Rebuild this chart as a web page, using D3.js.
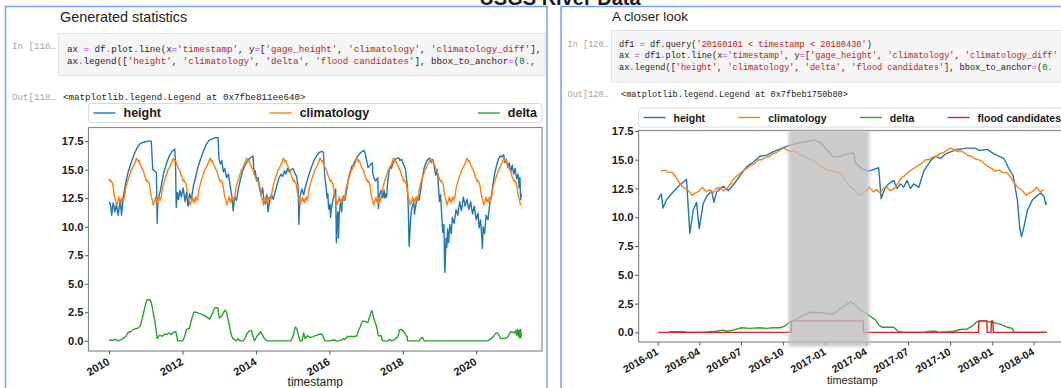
<!DOCTYPE html>
<html>
<head>
<meta charset="utf-8">
<script src="https://cdnjs.cloudflare.com/ajax/libs/d3/7.8.5/d3.min.js"></script>
<style>
  body { margin: 0; background: #fff; }
  svg { display: block; }
</style>
</head>
<body>
<script>
// ---- data (timestamps as decimal years) ----
const heightSeries = [
[2010.00,12.2],[2010.04,11.9],[2010.07,11.0],[2010.11,12.1],[2010.16,11.3],[2010.20,12.0],[2010.25,11.0],[2010.30,12.3],[2010.34,11.0],[2010.38,12.5],
[2010.45,13.8],[2010.52,14.8],[2010.60,15.6],[2010.68,16.3],[2010.76,16.9],[2010.85,17.3],[2010.95,17.4],[2011.05,17.5],[2011.15,17.5],[2011.17,16.2],
[2011.19,15.0],[2011.24,14.9],[2011.29,14.7],[2011.31,10.3],[2011.33,12.3],[2011.40,13.2],[2011.48,14.6],[2011.56,15.5],[2011.64,16.2],[2011.72,16.6],
[2011.79,16.8],[2011.81,15.6],[2011.83,11.7],[2011.86,13.0],[2011.89,12.4],[2011.93,13.2],[2011.97,12.6],[2012.02,13.4],[2012.07,12.2],[2012.11,13.0],
[2012.15,11.8],[2012.19,12.9],[2012.24,12.4],[2012.30,13.6],[2012.36,14.4],[2012.42,15.2],[2012.50,16.0],[2012.58,16.7],[2012.66,17.3],[2012.74,17.6],
[2012.82,17.7],[2012.90,17.8],[2012.97,17.8],[2012.99,16.0],[2013.03,15.5],[2013.07,15.8],[2013.11,14.8],[2013.15,15.1],[2013.20,14.3],[2013.25,14.6],
[2013.30,13.5],[2013.35,12.5],[2013.38,11.4],[2013.42,12.6],[2013.47,12.3],[2013.52,13.3],[2013.58,14.2],[2013.65,15.0],[2013.72,15.5],[2013.80,15.9],
[2013.88,16.1],[2013.92,16.2],[2013.95,14.6],[2013.98,14.9],[2014.02,14.0],[2014.06,14.3],[2014.10,13.3],[2014.14,12.8],[2014.18,13.4],[2014.22,12.3],
[2014.26,12.0],[2014.30,12.8],[2014.33,11.3],[2014.37,12.2],[2014.42,12.8],[2014.47,12.4],[2014.52,13.0],[2014.57,13.6],[2014.62,14.2],[2014.68,14.6],
[2014.73,14.4],[2014.78,14.9],[2014.82,14.6],[2014.86,15.1],[2014.91,14.8],[2014.96,15.0],[2015.01,15.1],[2015.06,14.7],[2015.11,14.4],[2015.15,13.5],
[2015.17,10.2],[2015.20,12.6],[2015.25,13.3],[2015.30,12.8],[2015.35,13.5],[2015.42,14.3],[2015.50,15.1],[2015.58,15.8],[2015.65,16.2],[2015.72,16.5],
[2015.80,16.6],[2015.84,16.5],[2015.86,15.4],[2015.88,14.2],[2015.91,13.6],[2015.94,12.5],[2015.96,12.9],[2015.98,11.6],
[2016.002,11.5],[2016.012,11.8],[2016.022,12.0],[2016.032,10.8],[2016.052,11.5],[2016.092,12.2],[2016.132,12.8],[2016.172,13.3],[2016.192,8.6],[2016.212,10.6],
[2016.232,11.3],[2016.248,9.0],[2016.272,11.2],[2016.292,11.8],[2016.322,12.3],[2016.336,11.3],[2016.352,12.2],[2016.391,12.7],[2016.421,12.3],[2016.451,12.8],
[2016.491,13.6],[2016.532,14.4],[2016.571,14.8],[2016.611,15.3],[2016.651,15.4],[2016.691,15.7],[2016.777,16.2],[2016.851,16.5],[2016.901,16.6],[2016.931,16.7],
[2016.971,16.5],[2017.001,16.0],[2017.021,15.7],[2017.051,15.2],[2017.091,15.3],[2017.131,15.5],[2017.171,15.6],[2017.181,14.7],[2017.221,14.2],[2017.261,14.0],
[2017.301,14.2],[2017.320,14.3],[2017.335,11.6],[2017.36,12.6],[2017.38,12.9],[2017.41,13.2],[2017.43,12.5],[2017.45,12.9],[2017.47,12.6],[2017.49,13.2],
[2017.51,12.5],[2017.53,12.9],[2017.56,12.6],[2017.59,14.0],[2017.63,14.9],[2017.66,15.3],[2017.69,15.1],[2017.72,15.5],[2017.79,15.9],[2017.85,16.0],
[2017.90,16.0],[2017.92,15.8],[2017.97,15.9],[2018.01,15.5],[2018.07,15.1],[2018.10,14.2],[2018.125,13.6],[2018.133,12.9],[2018.15,11.5],[2018.165,9.0],
[2018.175,8.3],[2018.19,9.2],[2018.21,10.6],[2018.24,11.5],[2018.27,11.9],[2018.29,12.1],[2018.31,11.8],[2018.32,11.1],[2018.325,11.3],
[2018.36,12.0],[2018.40,12.6],[2018.44,12.3],[2018.48,13.0],[2018.53,14.2],[2018.58,15.1],[2018.63,15.6],[2018.68,15.9],[2018.73,16.0],[2018.78,15.6],
[2018.82,15.9],[2018.86,15.2],[2018.90,14.5],[2018.94,15.0],[2018.97,13.6],[2019.00,12.2],[2019.03,12.8],[2019.06,11.0],[2019.09,9.5],[2019.12,10.2],
[2019.14,6.5],[2019.15,6.0],[2019.16,7.3],[2019.18,9.0],[2019.20,8.2],[2019.22,9.8],[2019.25,8.6],[2019.28,10.2],[2019.32,9.4],[2019.35,10.8],
[2019.40,10.3],[2019.45,11.5],[2019.50,11.0],[2019.55,12.2],[2019.60,11.4],[2019.65,12.6],[2019.70,11.8],[2019.75,12.4],[2019.80,11.5],[2019.85,12.2],
[2019.90,11.1],[2019.95,11.8],[2020.00,10.6],[2020.05,11.2],[2020.08,9.9],[2020.12,10.6],[2020.15,9.2],[2020.17,8.1],[2020.19,10.0],[2020.23,9.4],
[2020.27,11.0],[2020.32,10.6],[2020.37,12.0],[2020.42,12.8],[2020.46,13.8],[2020.50,14.6],[2020.55,15.3],[2020.60,15.9],[2020.65,16.2],[2020.70,16.1],
[2020.75,16.3],[2020.78,15.6],[2020.82,15.9],[2020.86,15.2],[2020.90,15.6],[2020.94,14.8],[2020.98,15.4],[2021.02,14.6],[2021.06,15.1],[2021.10,14.2],
[2021.14,14.6],[2021.17,13.4],[2021.19,14.3],[2021.21,12.4],[2021.23,12.9]
];

// climatology: one row per year, values on days 1, 8, 16 and 23 of each month
const climatologyYears = [2010, 2011, 2012, 2013, 2014, 2015, 2016, 2017, 2018, 2019, 2020, 2021];
const climatologyDays = [1, 8, 16, 23];
const climatologyRows = [
[14.2,14.0,14.1,13.9, 13.9,13.6,13.1,12.7, 12.5,12.3,11.9,12.1, 12.3,12.6,12.2,12.4, 12.1,12.5,12.6,12.3, 12.5,12.9,13.4,13.6, 13.9,14.1,14.3,14.5, 14.7,15.0,15.0,15.2, 15.3,15.5,15.6,15.8, 16.0,15.9,15.7,15.8, 15.6,15.4,15.3,15.1, 15.0,14.9,14.6,14.4],
[14.2,14.0,14.1,13.9, 13.9,13.6,13.1,12.7, 12.5,12.3,11.9,12.1, 12.3,12.6,12.2,12.4, 12.1,12.5,12.6,12.3, 12.5,12.9,13.4,13.6, 13.9,14.1,14.3,14.5, 14.7,15.0,15.0,15.2, 15.3,15.5,15.6,15.8, 16.0,15.9,15.7,15.8, 15.6,15.4,15.3,15.1, 15.0,14.9,14.6,14.4],
[14.2,14.0,14.1,13.9, 13.9,13.6,13.1,12.7, 12.5,12.3,11.9,12.1, 12.3,12.6,12.2,12.4, 12.1,12.5,12.6,12.3, 12.5,12.9,13.4,13.6, 13.9,14.1,14.3,14.5, 14.7,15.0,15.0,15.2, 15.3,15.5,15.6,15.8, 16.0,15.9,15.7,15.8, 15.6,15.4,15.3,15.1, 15.0,14.9,14.6,14.4],
[14.2,14.0,14.1,13.9, 13.9,13.6,13.1,12.7, 12.5,12.3,11.9,12.1, 12.3,12.6,12.2,12.4, 12.1,12.5,12.6,12.3, 12.5,12.9,13.4,13.6, 13.9,14.1,14.3,14.5, 14.7,15.0,15.0,15.2, 15.3,15.5,15.6,15.8, 16.0,15.9,15.7,15.8, 15.6,15.4,15.3,15.1, 15.0,14.9,14.6,14.4],
[14.2,14.0,14.1,13.9, 13.9,13.6,13.1,12.7, 12.5,12.3,11.9,12.1, 12.3,12.6,12.2,12.4, 12.1,12.5,12.6,12.3, 12.5,12.9,13.4,13.6, 13.9,14.1,14.3,14.5, 14.7,15.0,15.0,15.2, 15.3,15.5,15.6,15.8, 16.0,15.9,15.7,15.8, 15.6,15.4,15.3,15.1, 15.0,14.9,14.6,14.4],
[14.2,14.0,14.1,13.9, 13.9,13.6,13.1,12.7, 12.5,12.3,11.9,12.1, 12.3,12.6,12.2,12.4, 12.1,12.5,12.6,12.3, 12.5,12.9,13.4,13.6, 13.9,14.1,14.3,14.5, 14.7,15.0,15.0,15.2, 15.3,15.5,15.6,15.8, 16.0,15.9,15.7,15.8, 15.6,15.4,15.3,15.1, 15.0,14.9,14.6,14.4],
[14.2,14.0,14.1,13.9, 13.9,13.6,13.1,12.7, 12.5,12.3,11.9,12.1, 12.3,12.6,12.2,12.4, 12.1,12.5,12.6,12.3, 12.5,12.9,13.4,13.6, 13.9,14.1,14.3,14.5, 14.7,15.0,15.0,15.2, 15.3,15.5,15.6,15.8, 16.0,15.9,15.7,15.8, 15.6,15.4,15.3,15.1, 15.0,14.9,14.6,14.4],
[14.2,14.0,14.1,13.9, 13.9,13.6,13.1,12.7, 12.5,12.3,11.9,12.1, 12.3,12.6,12.2,12.4, 12.1,12.5,12.6,12.3, 12.5,12.9,13.4,13.6, 13.9,14.1,14.3,14.5, 14.7,15.0,15.0,15.2, 15.3,15.5,15.6,15.8, 16.0,15.9,15.7,15.8, 15.6,15.4,15.3,15.1, 15.0,14.9,14.6,14.4],
[14.2,14.0,14.1,13.9, 13.9,13.6,13.1,12.7, 12.5,12.3,11.9,12.1, 12.3,12.6,12.2,12.4, 12.1,12.5,12.6,12.3, 12.5,12.9,13.4,13.6, 13.9,14.1,14.3,14.5, 14.7,15.0,15.0,15.2, 15.3,15.5,15.6,15.8, 16.0,15.9,15.7,15.8, 15.6,15.4,15.3,15.1, 15.0,14.9,14.6,14.4],
[14.2,14.0,14.1,13.9, 13.9,13.6,13.1,12.7, 12.5,12.3,11.9,12.1, 12.3,12.6,12.2,12.4, 12.1,12.5,12.6,12.3, 12.5,12.9,13.4,13.6, 13.9,14.1,14.3,14.5, 14.7,15.0,15.0,15.2, 15.3,15.5,15.6,15.8, 16.0,15.9,15.7,15.8, 15.6,15.4,15.3,15.1, 15.0,14.9,14.6,14.4],
[14.2,14.0,14.1,13.9, 13.9,13.6,13.1,12.7, 12.5,12.3,11.9,12.1, 12.3,12.6,12.2,12.4, 12.1,12.5,12.6,12.3, 12.5,12.9,13.4,13.6, 13.9,14.1,14.3,14.5, 14.7,15.0,15.0,15.2, 15.3,15.5,15.6,15.8, 16.0,15.9,15.7,15.8, 15.6,15.4,15.3,15.1, 15.0,14.9,14.6,14.4],
[14.2,14.0,14.1,13.9, 13.9,13.6,13.1,12.7, 12.5,12.3,11.9]
];

const deltaSeries = [
[2010.00,0.05],[2010.10,0.05],[2010.17,0.15],[2010.22,0.0],[2010.30,0.05],[2010.38,0.2],[2010.46,0.4],[2010.52,0.75],[2010.58,0.8],[2010.65,0.95],
[2010.70,1.05],[2010.78,1.1],[2010.85,1.3],[2010.90,1.9],[2010.95,2.6],[2011.00,3.3],[2011.04,3.6],[2011.12,3.6],[2011.16,3.2],[2011.19,2.7],
[2011.24,1.8],[2011.28,1.0],[2011.31,0.2],[2011.38,0.5],[2011.45,0.4],[2011.52,0.6],[2011.58,0.55],[2011.63,0.7],[2011.70,0.55],[2011.76,0.75],
[2011.82,0.8],[2011.87,0.0],[2012.01,0.0],[2012.06,0.4],[2012.11,1.0],[2012.19,1.1],[2012.25,1.9],[2012.31,2.5],[2012.38,2.5],[2012.45,2.4],
[2012.55,2.3],[2012.65,2.1],[2012.74,1.9],[2012.80,2.3],[2012.86,2.8],[2012.89,2.9],[2012.96,2.9],[2013.00,2.0],[2013.05,2.1],[2013.12,2.5],
[2013.16,2.7],[2013.20,2.5],[2013.27,1.4],[2013.33,0.5],[2013.37,0.2],[2013.42,0.1],[2013.47,0.0],[2013.52,0.2],[2013.56,0.0],[2013.66,0.0],
[2013.70,0.2],[2013.75,0.6],[2013.81,0.85],[2013.88,0.9],[2013.92,0.4],[2013.96,0.0],[2014.03,0.4],[2014.08,0.6],[2014.13,0.8],[2014.18,0.5],
[2014.23,0.2],[2014.30,0.0],[2014.95,0.0],[2015.00,0.3],[2015.04,0.8],[2015.07,1.2],[2015.11,1.1],[2015.15,0.6],[2015.20,0.0],[2015.26,0.0],
[2015.30,0.7],[2015.34,0.2],[2015.40,0.45],[2015.47,0.3],[2015.55,0.35],[2015.62,0.45],[2015.70,0.55],[2015.80,0.6],[2015.84,0.3],[2015.88,0.0],
[2016.00,0.0],[2016.07,0.05],[2016.15,0.07],[2016.18,0.0],[2016.26,0.0],[2016.35,0.1],[2016.39,0.2],[2016.41,0.1],[2016.45,0.2],[2016.50,0.4],
[2016.55,0.35],[2016.61,0.4],[2016.65,0.35],[2016.69,0.4],[2016.73,0.4],[2016.76,0.55],[2016.79,0.9],[2016.83,1.15],[2016.87,1.5],[2016.92,1.75],
[2016.97,1.7],[2017.01,1.65],[2017.05,1.6],[2017.08,1.95],[2017.12,2.35],[2017.15,2.65],[2017.17,2.5],[2017.21,1.95],[2017.26,1.5],[2017.30,1.1],
[2017.32,0.65],[2017.34,0.45],[2017.41,0.45],[2017.44,0.05],[2017.47,0.0],[2017.59,0.0],[2017.63,0.1],[2017.66,0.1],[2017.68,0.0],[2017.71,0.03],
[2017.77,0.1],[2017.81,0.25],[2017.85,0.3],[2017.88,0.55],[2017.91,0.95],[2017.95,1.0],[2017.97,0.95],[2018.01,0.85],[2018.05,0.7],[2018.09,0.45],
[2018.12,0.35],[2018.13,0.0],[2018.325,0.0],[2018.45,0.0],[2018.50,0.25],[2018.54,0.3],[2018.58,0.0],[2020.31,0.0],[2020.45,0.3],[2020.53,0.65],
[2020.57,0.7],[2020.61,0.55],[2020.66,0.2],[2020.70,0.2],[2020.78,0.2],[2020.85,0.3],[2020.90,0.6],[2020.94,0.8],[2020.99,0.75],[2021.04,0.7],
[2021.07,0.9],[2021.10,0.5],[2021.12,1.0],[2021.15,0.4],[2021.17,0.95],[2021.19,0.2],[2021.21,1.0],[2021.23,0.3]
];

// flood candidate flag (0 / 1)
const floodSeries = [
[2016.002,0],[2016.797,0],[2016.800,1],[2017.227,1],[2017.230,0],[2017.917,0],[2017.920,1],[2017.967,1],[2017.970,0],
[2017.992,0],[2017.995,1],[2018.003,1],[2018.006,0],[2018.325,0]
];

// highlighted period on the close-up
const highlightSpan = [2016.78, 2017.265];
const queryRange = ["2016-01-01", "2018-04-30"];

const yTickValues = [0, 2.5, 5, 7.5, 10, 12.5, 15, 17.5];
const leftTickLabels = ["2010", "2012", "2014", "2016", "2018", "2020"];
const rightTickLabels = ["2016-01", "2016-04", "2016-07", "2016-10", "2017-01", "2017-04", "2017-07", "2017-10", "2018-01", "2018-04"];

const seriesNames = ["height", "climatology", "delta", "flood candidates"];
const seriesColors = ["#1f77b4", "#ff7f0e", "#2ca02c", "#d62728"];

const leftCode = [
  "ax = df.plot.line(x='timestamp', y=['gage_height', 'climatology', 'climatology_diff'],",
  "ax.legend(['height', 'climatology', 'delta', 'flood candidates'], bbox_to_anchor=(0.,"
];
const rightCode = [
  "df1 = df.query('20160101 < timestamp < 20180430')",
  "ax = df1.plot.line(x='timestamp', y=['gage_height', 'climatology', 'climatology_diff'",
  "ax.legend(['height', 'climatology', 'delta', 'flood candidates'], bbox_to_anchor=(0."
];

// ---- helpers ----
const SANS = "'Liberation Sans', Arial, Helvetica, sans-serif";
const MONO = "'Liberation Mono', 'DejaVu Sans Mono', monospace";

function yearToDate(y) {
  const yr = Math.floor(y);
  const a = Date.UTC(yr, 0, 1), b = Date.UTC(yr + 1, 0, 1);
  return new Date(a + (y - yr) * (b - a));
}
function dateToYear(d) {
  const yr = d.getUTCFullYear();
  const a = Date.UTC(yr, 0, 1), b = Date.UTC(yr + 1, 0, 1);
  return yr + (d - a) / (b - a);
}
function padded(lo, hi) { const m = (hi - lo) * 0.05; return [lo - m, hi + m]; }

const climatologySeries = [];
climatologyYears.forEach((yr, i) => {
  climatologyRows[i].forEach((v, k) => {
    const d = new Date(Date.UTC(yr, Math.floor(k / 4), climatologyDays[k % 4]));
    climatologySeries.push([dateToYear(d), v]);
  });
});

const svg = d3.select("body").append("svg").attr("width", 1061).attr("height", 388);
const defs = svg.append("defs");
defs.append("filter").attr("id", "soft").attr("x", "-10%").attr("y", "-10%").attr("width", "120%").attr("height", "120%")
  .append("feGaussianBlur").attr("stdDeviation", 1.6);

// ---- page title and notebook panels ----
svg.append("text").attr("x", 560).attr("y", 4.5).attr("text-anchor", "middle")
  .attr("font-family", SANS).attr("font-weight", "bold").attr("font-size", 20).attr("fill", "#1a1a1a")
  .text("USGS River Data");

function panel(x, w, heading, headY, box, code, codeSize, codeX, codeY0, codeStep, promptN, outY, outX, outText) {
  const g = svg.append("g");
  g.append("rect").attr("x", x).attr("y", 6.5).attr("width", w).attr("height", 420)
    .attr("fill", "none").attr("stroke", "#72a4f2").attr("stroke-width", 1.5);
  g.append("text").attr("x", heading.x).attr("y", headY).attr("font-family", SANS)
    .attr("font-size", heading.size).attr("fill", "#1e1e1e").text(heading.text);
  const clipId = "clip" + Math.round(x);
  defs.append("clipPath").attr("id", clipId).append("rect")
    .attr("x", box[0]).attr("y", box[1]).attr("width", box[2]).attr("height", box[3]);
  g.append("rect").attr("x", box[0]).attr("y", box[1]).attr("width", box[2]).attr("height", box[3])
    .attr("fill", "#f5f5f5").attr("stroke", "#e2e2e2");
  const cg = g.append("g").attr("clip-path", `url(#${clipId})`);
  code.forEach((line, i) => codeText(cg, codeX, codeY0 + i * codeStep, line, codeSize));
  g.append("text").attr("x", x + 6.5).attr("y", codeY0 - (code.length === 2 ? 3 : 0))
    .attr("font-family", MONO).attr("font-size", codeSize).attr("fill", "#a3a3a3")
    .style("white-space", "pre").text(`In [${promptN}\u2026`);
  g.append("text").attr("x", x + 6.5).attr("y", outY)
    .attr("font-family", MONO).attr("font-size", codeSize).attr("fill", "#a3a3a3")
    .style("white-space", "pre").text(`Out[${promptN}\u2026`);
  g.append("text").attr("x", outX).attr("y", outY)
    .attr("font-family", MONO).attr("font-size", codeSize).attr("fill", "#222")
    .style("white-space", "pre").text(outText);
}

function codeText(g, x, y, line, size) {
  const t = g.append("text").attr("x", x).attr("y", y)
    .attr("font-family", MONO).attr("font-size", size).style("white-space", "pre");
  const tokens = line.match(/'[^']*'?|[A-Za-z_]\w*|\d+\.?\d*|[=.<]|\s+|./g);
  tokens.forEach(tok => {
    let fill = "#222";
    if (tok[0] === "'") fill = "#ba2121";
    else if (/^\d/.test(tok)) fill = "#008000";
    else if (/^[=.<]$/.test(tok)) fill = "#aa22ff";
    t.append("tspan").attr("fill", fill).text(tok);
  });
}

panel(5.5, 541.5, {x: 60, size: 14.4, text: "Generated statistics"}, 21.5,
  [58.5, 33.5, 486.5, 42], leftCode, 9.2, 67, 51.5, 12, 118, 100, 63, "<matplotlib.legend.Legend at 0x7fbe811ee640>");
panel(561, 600, {x: 612, size: 13.4, text: "A closer look"}, 20.5,
  [611.5, 30.5, 500, 51.5], rightCode, 8.6, 619, 46.5, 11.7, 120, 96.5, 621, "<matplotlib.legend.Legend at 0x7fbeb1750b80>");

// ---- charts ----
function drawChart(cfg) {
  const g = svg.append("g");
  const allX = cfg.series.flatMap(s => s.data.map(d => d[0]));
  const allY = cfg.series.flatMap(s => s.data.map(d => d[1]));
  const [xa, xb] = padded(d3.min(allX), d3.max(allX));
  const [ya, yb] = padded(d3.min(allY), d3.max(allY));
  const x = d3.scaleUtc().domain([yearToDate(xa), yearToDate(xb)]).range([cfg.left, cfg.right]);
  const y = d3.scaleLinear().domain([ya, yb]).range([cfg.bottom, cfg.top]);

  const clipId = "axclip" + Math.round(cfg.left);
  defs.append("clipPath").attr("id", clipId).append("rect")
    .attr("x", cfg.left).attr("y", cfg.top).attr("width", cfg.right - cfg.left).attr("height", cfg.bottom - cfg.top);

  const line = d3.line().x(d => x(yearToDate(d[0]))).y(d => y(d[1]));
  const lg = g.append("g").attr("clip-path", `url(#${clipId})`);
  cfg.series.forEach(s => {
    lg.append("path").datum(s.data).attr("d", line).attr("fill", "none")
      .attr("stroke", s.color).attr("stroke-width", 1.4).attr("stroke-linejoin", "round");
  });

  // spines
  g.append("rect").attr("x", cfg.left).attr("y", cfg.top)
    .attr("width", cfg.right - cfg.left).attr("height", cfg.bottom - cfg.top)
    .attr("fill", "none").attr("stroke", "#8a8a8a").attr("stroke-width", 1.2);

  // y axis
  const yAxis = g.append("g").attr("transform", `translate(${cfg.left},0)`)
    .call(d3.axisLeft(y).tickValues(yTickValues).tickFormat(d3.format(".1f")).tickSize(3.5).tickPadding(1.5));
  yAxis.select(".domain").remove();
  yAxis.selectAll(".tick line").attr("stroke", "#555");
  yAxis.selectAll(".tick text").attr("font-family", SANS).attr("font-weight", "bold")
    .attr("font-size", 11.2).attr("fill", "#1a1a1a");

  // x axis
  const tickDates = cfg.tickLabels.map(cfg.parseTick);
  const xAxis = g.append("g").attr("transform", `translate(0,${cfg.bottom})`)
    .call(d3.axisBottom(x).tickValues(tickDates).tickFormat((d, i) => cfg.tickLabels[i]).tickSize(3.5));
  xAxis.select(".domain").remove();
  xAxis.selectAll(".tick line").attr("stroke", "#555");
  xAxis.selectAll(".tick text")
    .attr("font-family", SANS).attr("font-weight", "bold").attr("font-size", cfg.xTickSize).attr("fill", "#1a1a1a")
    .attr("text-anchor", "end").attr("dy", null).attr("x", 0).attr("y", 0)
    .attr("dominant-baseline", "hanging")
    .attr("transform", `translate(${cfg.labelDx},${cfg.labelDy}) rotate(-30)`);

  g.append("text").attr("x", (cfg.left + cfg.right) / 2).attr("y", cfg.titleY)
    .attr("text-anchor", "middle").attr("font-family", SANS).attr("font-size", cfg.titleSize)
    .attr("fill", "#1a1a1a").text("timestamp");

  // legend (expanded across the axes width)
  const lgd = g.append("g");
  lgd.append("rect").attr("x", cfg.left).attr("y", cfg.legendTop)
    .attr("width", cfg.right - cfg.left).attr("height", cfg.legendH).attr("rx", 2.5)
    .attr("fill", "#fff").attr("stroke", "#d8d8d8");
  const cy = cfg.legendTop + cfg.legendH / 2;
  const pad = 5, handle = 22, gap = 8;
  const texts = cfg.series.map(s => lgd.append("text").attr("font-family", SANS).attr("font-weight", "bold")
    .attr("font-size", cfg.legendSize).attr("fill", "#1a1a1a").attr("dominant-baseline", "central")
    .attr("y", cy).text(s.name));
  const widths = texts.map(t => handle + gap + t.node().getComputedTextLength());
  const spacing = (cfg.right - cfg.left - 2 * pad - d3.sum(widths)) / (cfg.series.length - 1);
  let cx = cfg.left + pad;
  cfg.series.forEach((s, i) => {
    lgd.append("line").attr("x1", cx).attr("x2", cx + handle).attr("y1", cy).attr("y2", cy)
      .attr("stroke", s.color).attr("stroke-width", 1.4);
    texts[i].attr("x", cx + handle + gap);
    cx += widths[i] + spacing;
  });

  return { g, x, y };
}

// full record
drawChart({
  left: 88.5, right: 542, top: 127.5, bottom: 351,
  series: [
    { name: seriesNames[0], color: seriesColors[0], data: heightSeries },
    { name: seriesNames[1], color: seriesColors[1], data: climatologySeries },
    { name: seriesNames[2], color: seriesColors[2], data: deltaSeries }
  ],
  tickLabels: leftTickLabels, parseTick: s => new Date(Date.UTC(+s, 0, 1)),
  xTickSize: 11, labelDx: -3, labelDy: 6, titleY: 386, titleSize: 12,
  legendTop: 103.5, legendH: 19, legendSize: 12.5
});

// close-up
const qa = new Date(queryRange[0] + "T00:00:00Z"), qb = new Date(queryRange[1] + "T00:00:00Z");
const inQuery = d => { const t = yearToDate(d[0]); return t > qa && t < qb; };
const right = drawChart({
  left: 638.6, right: 1066, top: 130.5, bottom: 342,
  series: [
    { name: seriesNames[0], color: seriesColors[0], data: heightSeries.filter(inQuery) },
    { name: seriesNames[1], color: seriesColors[1], data: climatologySeries.filter(inQuery) },
    { name: seriesNames[2], color: seriesColors[2], data: deltaSeries.filter(inQuery) },
    { name: seriesNames[3], color: seriesColors[3], data: floodSeries.filter(inQuery) }
  ],
  tickLabels: rightTickLabels, parseTick: s => new Date(s + "-01T00:00:00Z"),
  xTickSize: 10.5, labelDx: -3, labelDy: 5, titleY: 384, titleSize: 11,
  legendTop: 108, legendH: 19, legendSize: 10.5
});

// shaded highlight over the flood period
const sx0 = right.x(yearToDate(highlightSpan[0])), sx1 = right.x(yearToDate(highlightSpan[1]));
right.g.append("rect").attr("x", sx0).attr("y", 130.5).attr("width", sx1 - sx0).attr("height", 216)
  .attr("fill", "#bdbdbd").attr("fill-opacity", 0.78).attr("filter", "url(#soft)");
</script>
</body>
</html>
